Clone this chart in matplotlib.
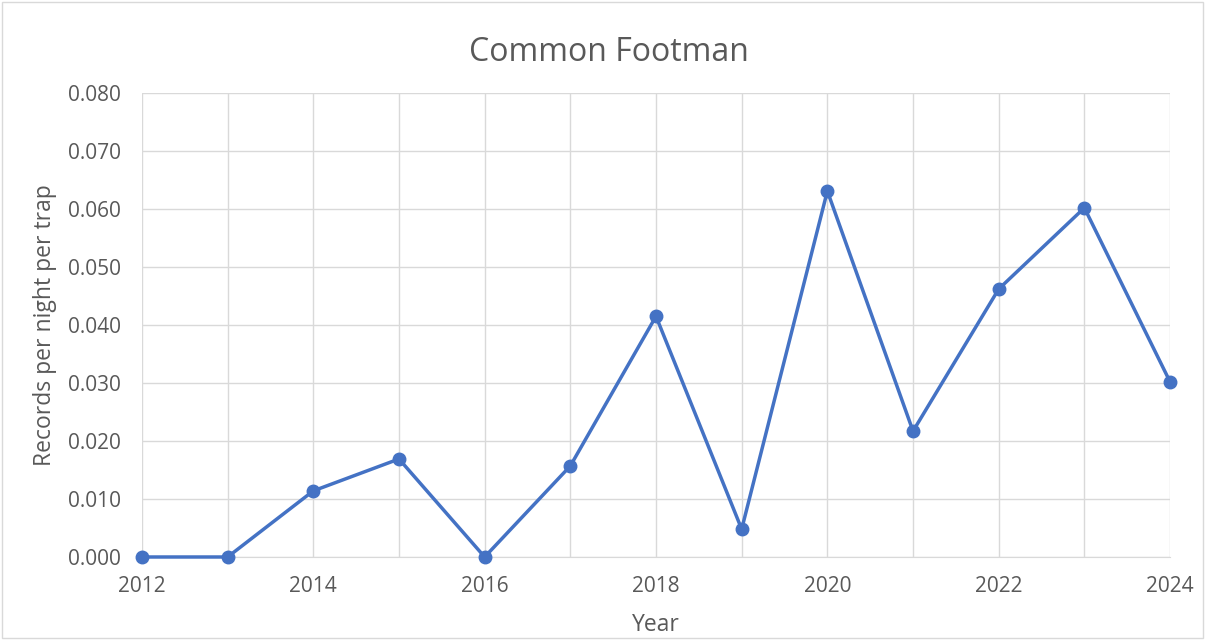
import matplotlib
matplotlib.use("Agg")
import matplotlib.pyplot as plt
from matplotlib.ticker import MultipleLocator, FormatStrFormatter

years = [2012, 2013, 2014, 2015, 2016, 2017, 2018, 2019, 2020, 2021, 2022, 2023, 2024]
records = [0.0, 0.0, 0.0114, 0.0169, 0.0, 0.0157, 0.0415, 0.0048, 0.0631, 0.0217, 0.0462, 0.0602, 0.0302]
xtick_years = [2012, 2014, 2016, 2018, 2020, 2022, 2024]

text_color = "#595959"
grid_color = "#d9d9d9"
line_color = "#4472C4"

plt.rcParams["font.family"] = ["Open Sans", "DejaVu Sans"]

fig = plt.figure(figsize=(12.05, 6.4), dpi=100)
ax = fig.add_axes([0.1178, 0.1297, 0.8532, 0.725])

ax.plot(years, records, color=line_color, linewidth=2.5, marker="o",
        markersize=9, zorder=3, clip_on=False)

ax.set_xlim(2012, 2024)
ax.set_ylim(0, 0.08)
ax.set_xticks(xtick_years)
ax.set_xticks(years, minor=True)
ax.yaxis.set_major_locator(MultipleLocator(0.01))
ax.yaxis.set_major_formatter(FormatStrFormatter("%.3f"))

ax.grid(True, which="both", axis="x", color=grid_color, linewidth=1)
ax.grid(True, which="major", axis="y", color=grid_color, linewidth=1)
ax.set_axisbelow(True)

for side in ["top", "right", "left"]:
    ax.spines[side].set_visible(False)
ax.spines["bottom"].set_color(grid_color)

ax.tick_params(which="both", length=0, colors=text_color, labelsize=15)
ax.tick_params(axis="x", pad=14)
ax.tick_params(axis="y", pad=15)

fig.text(0.505, 0.918, "Common Footman", fontsize=23, color=text_color,
         ha="center", va="center")
ax.set_xlabel("Year", fontsize=16.5, color=text_color, labelpad=11)
ax.set_ylabel("Records per night per trap", fontsize=16.5, color=text_color, labelpad=8)

# light outer border like the chart area frame
fig.patches.append(plt.Rectangle((0.002, 0.003), 0.996, 0.994, transform=fig.transFigure,
                                 fill=False, edgecolor=grid_color, linewidth=1))

fig.savefig("out.png", dpi=100)
